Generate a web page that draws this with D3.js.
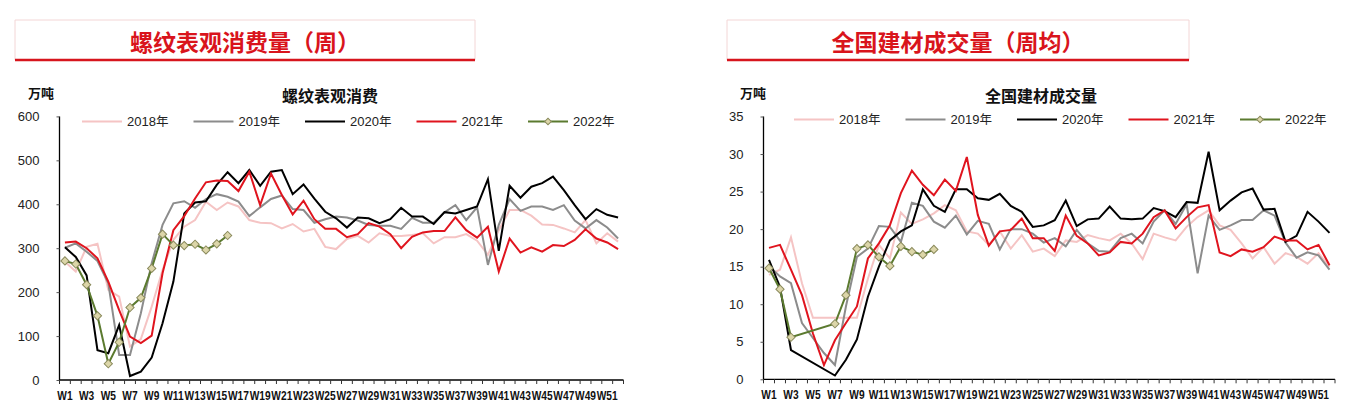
<!DOCTYPE html>
<html><head><meta charset="utf-8">
<script src="https://cdn.jsdelivr.net/npm/d3@7"></script>
<style>
body{margin:0;background:#fff;}
svg{display:block;}
</style></head>
<body>
<svg id="c" width="1351" height="415"></svg>
<script>
const weeks = d3.range(1,53).map(i=>"W"+i);
const seriesNames = ["2018年","2019年","2020年","2021年","2022年"];
const seriesColors = ["#f5c4c4","#8c8c8c","#000000","#e0141e","#5b7a2f"];

// Left chart: 螺纹表观消费 (万吨)
const rebar2018 = [269,247,303,310,205,190,76,93,167,250,319,349,364,406,387,404,395,364,358,357,345,355,338,344,303,298,321,328,313,334,328,328,330,334,311,325,325,332,317,285,341,387,387,374,354,353,345,336,364,311,334,315];
const rebar2019 = [301,311,292,271,220,57,57,152,266,353,402,407,392,412,423,417,406,373,393,412,420,389,387,358,366,372,370,363,353,351,351,344,369,358,358,382,398,364,393,262,353,412,385,395,395,387,398,363,345,364,347,322];
const rebar2020 = [302,280,238,68,61,125,9,19,51,129,224,379,404,407,444,473,448,478,442,474,478,423,445,413,383,368,347,370,368,357,366,392,372,372,355,382,379,387,395,457,294,442,415,440,448,463,432,398,366,389,376,370];
const rebar2021 = [313,315,300,277,224,159,99,84,101,243,341,373,413,450,454,453,430,474,398,470,421,377,408,366,344,344,325,332,357,349,332,300,326,336,339,339,370,341,324,349,247,322,290,302,292,307,305,319,343,322,313,298];
const rebar2022 = [271,264,217,146,37,86,165,187,254,332,307,306,309,296,310,329];
const rebarTicks = [0,100,200,300,400,500,600];

// Right chart: 全国建材成交量 (万吨)
const build2018 = [13.9,14.6,18.9,12.8,8.2,8.2,8.2,8.2,8.2,13.4,17.9,16.1,22.2,20.7,21.3,22.1,23.2,22.5,19.7,19.4,17.9,19.7,17.4,19.2,17.0,17.4,16.4,18.5,18.3,19.2,18.8,18.5,19.4,18.1,16.0,19.4,18.9,18.5,20.3,21.6,22.5,20.5,19.9,18.1,16.1,17.6,15.4,16.8,16.3,15.4,16.8,15.0];
const build2019 = [15.1,13.7,12.8,7.5,5.5,3.5,1.9,9.7,16.3,17.4,20.4,20.3,18.3,23.5,23.1,21.0,20.2,21.8,19.3,21.1,20.7,17.3,20.0,20.0,19.4,18.2,18.8,17.7,19.9,18.1,17.1,17.0,18.8,19.4,18.1,21.0,22.5,20.7,23.3,14.1,21.8,19.9,20.5,21.2,21.2,22.5,21.8,18.2,16.2,16.9,16.5,14.6];
const build2020 = [15.9,12.3,3.9,null,null,null,0.5,2.6,5.3,11.0,15.0,18.5,19.7,20.5,25.3,23.1,22.3,25.3,25.3,24.1,23.9,24.7,23.1,22.3,20.3,20.5,21.2,23.8,20.4,21.3,21.4,23.0,21.4,21.3,21.4,22.8,22.4,21.6,23.6,23.5,30.3,22.5,23.8,24.9,25.4,22.6,22.7,18.3,19.1,22.3,21.0,19.5];
const build2021 = [17.5,17.9,14.6,11.2,6.1,1.9,5.2,7.5,9.7,16.1,18.1,20.5,24.8,27.8,25.9,24.5,26.6,25.1,29.6,21.9,17.8,19.7,19.9,21.4,18.8,18.8,17.1,21.8,19.1,18.1,16.5,16.9,18.3,18.1,19.4,21.6,22.5,20.1,21.6,22.9,23.2,16.9,16.4,17.3,17.0,17.6,19.0,18.5,18.5,17.3,17.9,15.2];
const build2022 = [14.8,12.0,5.6,null,null,null,7.4,11.2,17.4,17.9,16.3,15.1,17.7,17.0,16.6,17.3];
const buildTicks = [0,5,10,15,20,25,30,35];

const svg = d3.select("#c");
const CJK = "'Noto Sans CJK SC','Noto Sans',sans-serif";
const NUM = "'Liberation Sans',Arial,sans-serif";

function header(x0, x1, text){
  const g = svg.append("g");
  g.append("path").attr("d",`M${x0},60 V20 H${x1} V60`).attr("fill","none").attr("stroke","#f3d6d6").attr("stroke-width",1);
  g.append("line").attr("x1",x0).attr("x2",x1).attr("y1",60).attr("y2",60).attr("stroke","#d7151d").attr("stroke-width",2.5);
  g.append("text").attr("x",(x0+x1)/2).attr("y",51).attr("text-anchor","middle")
    .attr("font-family",CJK).attr("font-weight","bold").attr("font-size",23).attr("fill","#d9141c").text(text);
}

function chart(opt){
  const {x0,x1,yTop,yBot,max,ticks,data,title,titleX,unitX,legendX,legendY} = opt;
  const g = svg.append("g");
  const x = d3.scaleBand().domain(weeks).range([x0,x1]).padding(0);
  const y = d3.scaleLinear().domain([0,max]).range([yBot,yTop]);

  // y axis
  const ya = g.append("g").attr("transform",`translate(${x0},0)`)
    .call(d3.axisLeft(y).tickValues(ticks).tickSize(3).tickPadding(17).tickFormat(d3.format("d")));
  ya.select(".domain").attr("stroke","#000").attr("stroke-width",1.3).attr("d",`M0,${yTop}V${yBot}`);
  ya.selectAll(".tick line").attr("stroke","#555");
  ya.selectAll(".tick text").attr("font-family",NUM).attr("font-size",13).attr("fill","#222");

  // x axis
  const xa = g.append("g").attr("transform",`translate(0,${yBot})`)
    .call(d3.axisBottom(x).tickValues(weeks.filter((d,i)=>i%2===0)).tickSize(0).tickPadding(11));
  xa.select(".domain").attr("stroke","#000").attr("stroke-width",1.3).attr("d",`M${x0},0H${x1}`);
  xa.selectAll(".tick text").attr("font-family",NUM).attr("font-weight","bold").attr("font-size",12)
    .attr("fill","#111").attr("transform","scale(0.85,1)");
  // boundary ticks
  const bounds = weeks.map(w=>x(w)).concat([x1]);
  g.append("g").selectAll("line").data(bounds).join("line")
    .attr("x1",d=>d).attr("x2",d=>d).attr("y1",yBot).attr("y2",yBot+4)
    .attr("stroke","#333").attr("stroke-width",1);

  // titles
  g.append("text").attr("x",unitX).attr("y",98).attr("text-anchor","middle").attr("font-family",CJK)
    .attr("font-weight","bold").attr("font-size",13).attr("fill","#111").text("万吨");
  g.append("text").attr("x",titleX).attr("y",102).attr("text-anchor","middle").attr("font-family",CJK)
    .attr("font-weight","bold").attr("font-size",16).attr("fill","#111").text(title);

  const cx = w=>x(w)+x.bandwidth()/2;
  const line = d3.line().x(d=>cx(d.w)).y(d=>y(d.v));
  data.forEach((vals,k)=>{
    const pts = vals.map((v,i)=>({w:weeks[i],v})).filter(d=>d.v!=null);
    g.append("path").datum(pts).attr("d",line).attr("fill","none")
      .attr("stroke",seriesColors[k]).attr("stroke-width",2).attr("stroke-linejoin","miter");
    if(k===4){
      g.append("g").selectAll("path").data(pts).join("path")
        .attr("d",d3.symbol(d3.symbolSquare,34))
        .attr("transform",d=>`translate(${cx(d.w)},${y(d.v)}) rotate(45)`)
        .attr("fill","#dcd6a9").attr("stroke","#8a8a5c").attr("stroke-width",1);
    }
  });

  // legend
  seriesNames.forEach((n,k)=>{
    const lx = legendX + k*111.5;
    g.append("line").attr("x1",lx).attr("x2",lx+40).attr("y1",legendY).attr("y2",legendY)
      .attr("stroke",seriesColors[k]).attr("stroke-width",2);
    if(k===4){
      g.append("path").attr("d",d3.symbol(d3.symbolSquare,22))
        .attr("transform",`translate(${lx+20},${legendY}) rotate(45)`)
        .attr("fill","#dcd6a9").attr("stroke","#8a8a5c").attr("stroke-width",1);
    }
    g.append("text").attr("x",lx+45).attr("y",legendY+4.5).attr("font-family",NUM).attr("font-size",13)
      .attr("fill","#222").text(n.replace("年","")).append("tspan").attr("font-family",CJK).attr("font-size",12.5).text("年");
  });
}

header(15,475,"螺纹表观消费量（周）");
header(727,1189,"全国建材成交量（周均）");

chart({x0:59.5,x1:623.5,yTop:116.4,yBot:380,max:600,ticks:rebarTicks,
  data:[rebar2018,rebar2019,rebar2020,rebar2021,rebar2022],title:"螺纹表观消费",titleX:330,unitX:41,legendX:82,legendY:121.5});
chart({x0:763.5,x1:1335,yTop:116.5,yBot:379.3,max:35,ticks:buildTicks,
  data:[build2018,build2019,build2020,build2021,build2022],title:"全国建材成交量",titleX:1041,unitX:753,legendX:794,legendY:119.5});
</script>
</body></html>
